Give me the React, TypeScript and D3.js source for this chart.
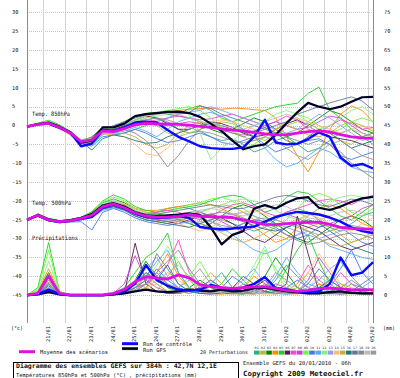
import React from "react";
import * as d3 from "d3";

const HOURS = d3.range(0, 385, 12);
const DAY_LABELS = ["21/01","22/01","23/01","24/01","25/01","26/01","27/01","28/01","29/01","30/01","31/01","01/02","02/02","03/02","04/02","05/02"];
const LEFT_TICKS = [30,25,20,15,10,5,0,-5,-10,-15,-20,-25,-30,-35,-40,-45];
const RIGHT_TICKS = [75,70,65,60,55,50,45,40,35,30,25,20,15,10,5,0];
const PERT_IDS = ["01","02","03","04","05","06","07","08","09","10","11","12","13","14","15","16","17","18","19","20"];
const PERT_COLORS = ["#33aa88","#bbbb33","#008800","#ff8c00","#22cc22","#551a55","#ff44cc","#cc44cc","#66ff33","#4477ee","#55aaff","#88ee88","#9999ff","#ffbb77","#ccaa44","#227777","#667799","#888888","#bbbbbb","#999999"];

// Temp 850 hPa
const T850_MEAN = [-0.3,0.3,0.6,-0.5,-1.9,-4.3,-3.8,-1.4,-1.6,-0.8,0.2,0.6,0.4,0.4,0.3,0.1,-0.2,-0.5,-0.9,-1.2,-1.4,-1.8,-2.2,-2.5,-2.4,-2.0,-1.6,-1.4,-1.7,-2.4,-3.0,-3.3,-3.4];
const T850_CTRL = [-0.3,0.3,0.5,-0.6,-1.8,-5.5,-4.8,-1.2,-1.4,-0.5,0.8,1.0,0.8,-1.2,-3.0,-4.2,-5.5,-6.0,-6.2,-6.2,-5.8,-3.0,1.5,-4.5,-5.0,-4.8,-3.6,-1.8,-3.0,-8.5,-10.7,-10.2,-11.4];
const T850_GFS = [-0.3,0.4,0.8,-0.3,-1.8,-4.5,-4.0,-0.5,-0.5,0.5,2.5,3.0,3.3,3.6,3.7,3.3,2.3,0.5,-1.5,-4.0,-6.3,-5.5,-5.0,-2.5,0.6,3.5,6.0,5.0,4.3,5.0,6.3,7.5,7.6];
const T850_PERT = [
  [-0.3,0.5,1.0,-0.2,-1.8,-4.5,-5.0,-2.5,-1.0,0.0,1.0,1.5,2.0,1.0,-1.0,-2.0,-1.5,-3.0,-4.0,-3.5,-5.0,-7.0,-6.0,-4.0,-3.0,-5.0,-7.0,-6.0,-4.0,-2.0,-1.0,-3.0,-5.0],
  [-0.3,0.2,0.5,-0.6,-2.2,-4.0,-3.5,-1.5,-2.0,-1.0,0.5,1.0,0.0,-2.0,-3.0,-2.0,-1.0,0.0,1.0,0.5,-1.0,-3.0,-4.0,-2.0,0.0,1.0,0.5,-1.0,-2.0,-4.0,-5.0,-3.0,-2.0],
  [-0.3,0.4,0.8,-0.4,-2.0,-4.2,-3.0,-0.5,-0.5,1.0,2.5,3.2,3.5,3.0,2.5,2.0,1.0,-1.0,-2.0,-1.0,0.5,2.0,1.0,-1.0,-3.0,-2.0,0.0,2.0,4.0,3.0,1.0,-1.0,-2.0],
  [-0.3,0.3,0.6,-0.2,-1.8,-4.0,-4.5,-2.0,-1.5,-0.5,1.0,2.0,3.0,3.5,4.0,4.3,4.5,4.6,4.3,4.6,4.5,4.2,4.0,2.0,-3.0,-8.0,-12.3,-7.0,-1.0,3.0,5.2,4.0,1.0],
  [-0.3,0.6,1.4,0.2,-1.5,-3.8,-3.2,-1.0,-2.5,-2.0,-1.0,0.0,1.0,2.0,3.0,4.5,5.3,4.0,2.0,1.0,2.0,3.0,4.0,5.0,5.5,5.9,8.5,10.2,4.1,2.0,-1.0,-3.0,-2.0],
  [-0.3,0.3,0.7,-0.5,-2.5,-4.8,-4.0,-1.2,-1.0,0.0,1.5,2.5,2.0,0.5,-1.0,-1.0,0.0,1.0,0.5,-0.5,-2.0,-3.0,-2.5,-1.0,0.5,1.5,0.0,-2.0,-3.0,-3.5,-4.0,-5.0,-6.0],
  [-0.3,0.2,0.4,-0.7,-2.3,-4.5,-4.3,-2.0,-1.5,-1.0,0.0,1.0,1.5,2.0,2.5,2.0,1.5,1.8,2.5,3.0,2.0,1.0,0.0,1.0,2.5,1.5,-1.0,-2.0,0.0,1.5,0.5,-1.0,-0.5],
  [-0.3,0.4,0.9,-0.1,-1.7,-4.0,-3.2,-0.8,-1.2,-0.5,0.5,1.0,0.5,0.0,0.5,1.0,0.5,-0.5,-1.0,-2.0,-2.5,-1.5,0.0,1.0,0.0,-1.0,-0.5,1.0,2.5,2.0,0.0,-2.0,-3.0],
  [-0.3,0.6,1.3,0.0,-1.6,-3.9,-3.5,-1.0,-0.5,0.5,1.5,2.5,3.5,4.0,4.5,5.0,4.0,2.0,-1.0,-4.0,-6.0,-5.0,-3.0,-1.0,1.0,3.0,2.0,0.0,-2.0,-1.0,1.0,2.0,1.0],
  [-0.3,0.3,0.6,-0.4,-2.1,-4.4,-5.5,-3.0,-2.5,-2.0,-1.0,-2.0,-3.5,-4.5,-4.0,-3.0,-2.0,-3.0,-4.5,-5.0,-4.0,-3.0,-5.0,-7.0,-6.0,-5.0,-4.0,-3.5,-5.0,-8.0,-9.0,-8.0,-7.0],
  [-0.3,0.3,0.5,-0.5,-2.2,-4.6,-4.8,-2.2,-2.0,-1.5,-0.5,-1.5,-3.0,-1.0,1.0,2.0,3.0,3.5,2.5,1.0,-1.0,-3.0,-6.0,-9.0,-11.0,-10.0,-8.0,-6.0,-7.0,-9.0,-11.0,-12.0,-12.5],
  [-0.3,0.5,1.1,-0.2,-1.9,-4.1,-3.6,-1.3,-0.8,0.2,1.2,2.0,2.5,3.0,3.5,3.0,-2.0,-9.0,-6.0,-4.0,-2.0,0.0,1.0,3.0,4.0,3.0,1.0,-1.0,0.0,2.0,4.0,5.0,3.0],
  [-0.3,0.4,0.7,-0.3,-2.0,-4.2,-3.8,-1.6,-1.8,-1.0,0.0,0.5,1.0,2.0,3.0,3.5,4.0,5.0,4.0,3.0,2.0,1.0,0.0,-1.0,-2.0,-1.0,1.0,3.0,2.0,0.0,-2.0,-4.0,-3.0],
  [-0.3,0.3,0.6,-0.6,-2.4,-4.5,-4.0,-2.0,-2.5,-3.0,-5.0,-7.5,-8.0,-6.0,-3.0,-1.0,0.0,1.0,1.5,1.0,0.0,-1.0,-2.0,-1.0,1.0,2.0,1.0,0.0,-1.0,-2.0,-1.0,0.0,-1.0],
  [-0.3,0.2,0.5,-0.8,-2.5,-4.6,-4.2,-2.3,-2.2,-2.0,-3.0,-5.0,-6.0,-5.0,-2.0,0.0,1.0,0.5,-0.5,-1.5,-3.0,-4.0,-3.0,-1.0,0.0,-1.0,-2.5,-3.0,-2.0,0.0,1.0,0.0,-1.5],
  [-0.3,0.3,0.6,-0.4,-2.1,-4.3,-6.5,-3.5,-2.5,-3.0,-4.0,-4.7,-4.5,-3.0,-2.0,-1.0,0.0,0.5,0.0,-1.0,-2.0,-1.5,-0.5,-2.0,-4.0,-5.0,-3.0,-1.0,-2.0,-4.0,-6.0,-5.0,-4.0],
  [-0.3,0.4,0.8,-0.2,-1.8,-4.0,-3.6,-1.1,0.0,1.0,2.0,2.8,3.2,3.4,3.2,3.5,5.2,4.5,3.0,2.0,1.0,0.0,-1.0,0.0,1.0,3.0,4.0,5.0,6.0,6.8,7.6,6.5,4.1],
  [-0.3,0.3,0.6,-0.5,-2.2,-4.4,-4.0,-1.5,-1.5,-1.0,-2.0,-4.0,-7.0,-11.0,-8.0,-4.0,-1.0,0.0,-1.0,-2.0,-3.0,-2.0,-1.0,-2.0,-3.0,-4.0,-5.0,-4.0,-5.0,-7.0,-10.0,-12.0,-14.0],
  [-0.3,0.5,1.0,-0.1,-1.7,-3.9,-3.3,-0.9,-0.3,0.5,1.5,2.5,3.0,3.3,3.0,2.0,1.0,0.5,0.0,-0.5,-1.0,0.0,1.0,2.0,3.0,2.0,0.0,-2.0,-3.0,-2.0,-1.0,-2.0,-3.0],
  [-0.3,0.2,0.4,-0.6,-2.3,-4.3,-4.6,-1.8,-1.5,-0.5,0.5,1.5,2.0,1.5,0.5,-0.5,-1.5,-2.0,-3.0,-4.0,-4.5,-4.0,-3.0,-4.0,-6.0,-8.0,-9.0,-7.0,-5.0,-4.0,-6.0,-8.0,-9.0],
];

// Temp 500 hPa
const T500_MEAN = [-25,-23.8,-25,-25.5,-25.2,-24.6,-23.8,-21.5,-20.8,-21.8,-23.2,-24,-24.3,-24.3,-24.1,-23.6,-24,-24.2,-24.3,-24.4,-25,-25.6,-26.2,-26.3,-26,-25.8,-25.7,-25.6,-26.2,-27,-27.3,-27.4,-27.5];
const T500_CTRL = [-25,-23.9,-25.1,-25.6,-25.3,-24.8,-24.2,-21.8,-21,-22,-23.4,-24.2,-24.5,-24.4,-24,-24.5,-26.9,-27.3,-27.5,-27.3,-27,-26.8,-25.5,-24.3,-23.5,-22.9,-23.2,-23.6,-24.4,-25.5,-27,-28,-28.5];
const T500_GFS = [-25,-23.7,-24.9,-25.4,-25.1,-24.5,-23.5,-21.2,-20.6,-21.5,-23,-23.8,-24,-23.8,-23.6,-23.3,-23.7,-27,-31.5,-29,-28,-22,-21.1,-22,-20.5,-19.3,-19,-21.8,-22.4,-21.5,-20.3,-19.3,-18.9];
const T500_PERT = [
  [-25,-24,-25.2,-25.6,-25,-24.5,-23.5,-21,-20,-21,-22.5,-23.5,-23,-22,-21.5,-22,-23,-24,-25,-26,-27,-28,-27,-25,-23,-22,-23,-25,-27,-28,-26,-24,-23],
  [-25,-23.6,-24.8,-25.3,-25.3,-24.8,-24,-22,-21.5,-22.5,-24,-25,-25.5,-26,-25.5,-24.5,-23,-22,-21,-21.5,-23,-25,-27,-29,-30,-29,-27,-26,-27,-29,-31,-30,-28],
  [-25,-24,-25,-25.4,-25.1,-24.4,-23,-20.5,-19.5,-20.5,-22,-23,-23.5,-24,-25,-26,-27,-26,-24,-22,-21,-22,-24,-26,-28,-30,-31,-29,-27,-25,-24,-25,-27],
  [-25,-23.7,-25,-25.5,-25.3,-24.8,-24,-21.8,-20.5,-21,-22,-22.5,-22.5,-22,-21.5,-21,-20.5,-21,-22,-23.5,-25,-27,-29,-31,-30,-27,-24,-22,-21,-22,-24,-26,-27],
  [-25,-23.4,-24.6,-25.2,-25,-24.4,-22.8,-20,-18.4,-19.5,-21.5,-22.5,-23,-22.5,-22,-21.5,-21,-20,-19,-18.5,-19,-21,-23,-22,-19,-17.5,-18,-20,-22,-24,-25,-23,-21],
  [-25,-24,-25.2,-25.8,-25.5,-24.8,-24.2,-22,-21.5,-22,-23.5,-24.5,-25,-25.5,-26,-25,-24,-23.5,-24.5,-26,-28,-30,-31,-29,-27,-26,-27,-28,-30,-32,-33,-32,-31],
  [-25,-23.8,-25,-25.5,-25,-24.6,-23.6,-21.4,-20.6,-21.6,-23,-23.5,-23,-22.5,-23,-24,-25,-24,-22.5,-21,-20.5,-21.5,-23,-24,-23,-22,-21,-20,-19.5,-20,-21,-19.5,-18.5],
  [-25,-23.9,-25.1,-25.6,-25.3,-24.7,-24,-21.7,-21,-22,-23.5,-24.5,-25,-24.5,-24,-23.5,-23,-24,-25.5,-27,-28,-27,-25.5,-24,-23.5,-24.5,-26,-27,-26,-25,-24,-22,-21],
  [-25,-23.5,-24.7,-25.3,-25,-24.3,-23.2,-20.3,-19,-20,-22,-23,-23.5,-23,-22,-21,-20.5,-19.5,-19,-20,-22,-24,-26,-27,-25,-22,-19,-18,-19,-21,-23,-24,-22],
  [-25,-24.1,-25.3,-25.7,-25.6,-25.5,-27.7,-23,-22,-23,-24.5,-25.5,-26,-26.5,-26,-25.5,-26,-27,-28,-27.5,-26,-25,-25.5,-27,-29,-30,-29,-27,-26,-27,-29,-31,-32],
  [-25,-23.9,-25.2,-25.8,-25.4,-24.9,-24.5,-22.5,-21.8,-22.5,-24,-25,-25.5,-25,-24.5,-24,-24.5,-25.5,-27,-29,-31,-33,-34,-33,-31,-29,-28,-30,-32,-33,-34,-35,-35.5],
  [-25,-23.6,-24.8,-25.3,-25,-24.4,-23.3,-20.6,-19.6,-20.8,-22.5,-23.5,-24,-24.5,-24.5,-24,-23,-22,-21,-20,-19.5,-20,-21,-22.5,-24,-25,-24,-22,-20,-19,-18.5,-19,-20],
  [-25,-23.8,-25,-25.4,-25.2,-24.6,-23.7,-21.4,-20.7,-21.7,-23.2,-24,-24.5,-25,-25.5,-26,-25.5,-25,-24,-23.5,-23,-24,-25,-26,-27,-28,-29,-30,-29,-28,-27.5,-28,-29],
  [-25,-24,-25.2,-25.6,-25.4,-24.8,-24,-21.5,-20.2,-20.8,-22,-23,-24,-25,-26,-27,-28,-27,-25.5,-24,-23,-22.5,-23.5,-25,-26,-25,-23.5,-24.5,-26,-27.5,-28,-26,-24.5],
  [-25,-23.7,-24.9,-25.5,-25.2,-24.6,-23.9,-21.8,-21,-21.8,-23,-23.8,-24.2,-24.5,-25,-25.5,-26,-27,-28.5,-30,-31,-30,-28.5,-27,-26,-26.5,-28,-30,-31.5,-32,-31,-30,-29],
  [-25,-24,-25.3,-25.7,-25.3,-24.7,-24.3,-22.2,-21.5,-22.4,-24,-25,-25.5,-26,-26.5,-27,-26,-25,-24,-24.5,-25.5,-26.5,-27.5,-28,-27,-26,-25,-26,-28,-30,-32,-33,-34],
  [-25,-23.8,-24.9,-25.4,-25.1,-24.5,-23.5,-21,-20.4,-21.4,-22.8,-23.5,-23.5,-23,-22.5,-22,-21.5,-21,-21.5,-22,-22,-21,-20,-19,-18.5,-19,-20,-21,-21.5,-20.5,-19.5,-20,-21],
  [-25,-23.9,-25.1,-25.6,-25.3,-24.7,-23.9,-21.6,-20.9,-21.9,-23.4,-24.3,-25,-25.5,-25,-24.5,-24,-23.5,-23,-23.5,-24.5,-25.5,-26.5,-27.5,-29,-30.5,-31.5,-31,-30,-29,-28.5,-29,-30],
  [-25,-23.7,-24.9,-25.4,-25.1,-24.5,-23.6,-21.2,-20.3,-21.3,-22.9,-23.8,-24,-23.8,-23.5,-23,-22.5,-22,-22.5,-23.5,-24,-23,-22,-21,-21.5,-23,-24.5,-25,-24,-23,-22.5,-23,-24],
  [-25,-23.8,-25,-25.5,-25.2,-24.6,-24.1,-21.9,-21.2,-22.1,-23.5,-24.2,-24.6,-24.8,-24.6,-24.2,-24.5,-25.5,-26.5,-27,-26,-25,-24.5,-25,-26,-27,-28,-29,-28,-27,-26.5,-27,-28],
];

// Precipitation (mm)
const PRECIP_MEAN = [0,0.5,5,0.5,0.1,0.1,0.1,0.1,0.5,1.5,3.5,4.9,4.5,4.3,5.4,4.6,2.8,2.3,2.0,1.8,2.0,2.2,2.3,1.8,1.3,1.0,1.3,1.8,1.9,1.7,1.5,1.4,1.5];
const PRECIP_CTRL = [0,0.3,1.5,0.3,0,0,0,0,0.3,1,3,8,4,2.5,1.5,1.2,1.5,2.7,2,1.5,2,3,4.8,1.9,1.5,1,0.8,1,3,10,5.3,6,8.8];
const PRECIP_GFS = [0,0.2,0.8,0.2,0,0,0,0,0.2,0.5,1,1.5,1,0.8,1,1.5,1.2,1,1.5,1,1.2,1.8,2,1.5,1,0.8,0.5,0.5,0.8,1,0.6,0.5,0.5];
const PRECIP_PERT = [
  [0,0.5,4,0.5,0,0,0,0,0.2,0.5,2,4,6,3,1,0.5,1,3,6,2,1,0.5,1,4,8,5,2,1,0.5,1,3,2,1],
  [0,0.3,3,0.2,0,0,0,0.1,0.3,1,3,2,1,5,9,4,1,0.5,0.3,1,2,1,0.5,0.3,1,2,6,3,1,0.5,0.3,1,0.5],
  [0,1,6,0.5,0,0,0,0,0.2,1,4,9,5,2,1,2,4,2,1,0.5,0.3,2,5,10,6,2,1,0.5,1,2,1,0.5,0.3],
  [0,1,7,0.8,0.1,0,0,0,0.2,0.5,1,2,6,11,5,2,1,0.5,0.3,0.5,2,5,3,1,0.5,0.3,1,3,2,1,0.5,0.3,0.2],
  [0,2,14,1,0,0,0,0,0.5,2,6,10,12,16.5,6,2,1,1,3,7,4,1,0.5,2,7,12,16,9,3,1,0.5,0.3,0.3],
  [0,0.3,1,0.2,0,0,0,0,0.1,0.5,13.8,3,1,0.5,0.5,1,2,1,0.5,0.5,1,2,4,1,3,21,11,1,0.5,0.3,0.5,1,0.5],
  [0,0.5,5.5,0.5,0,0,0,0,0.3,1,2,3,5,8,14.6,6,2,1,0.5,1,3,2,1,0.5,1,3,8,4,2,6,3,1,0.5],
  [0,0.3,3,0.3,0,0,0,0,0.5,3,10.5,4,2,1,0.5,1,2,4,2,1,0.5,0.3,1,3,2,1,4,10,6,2,1,0.5,0.3],
  [0,1.5,12,1,0,0,0,0,0.3,1,3,6,3,1,2,5,9,4,1,0.5,2,6,12,7,3,1,0.5,1,4,9,5,2,1],
  [0,0.5,2,0.3,0,0,0,0,0.2,0.5,1,3,7,4,2,1,0.5,1,2,5,3,1,0.5,1,2,4,2,1,3,7,12,6,3],
  [0,0.5,3,0.3,0,0,0,0,0.3,1,2,5,9,12,6,2,1,0.5,1,2,1,0.5,1,5,10,6,3,2,1,0.5,1,2,4],
  [0,1,9,0.8,0,0,0,0,0.2,0.5,2,4,8,13,9,4,2,1,0.5,1,3,8,13,6,2,1,0.5,2,5,3,1,0.5,0.3],
  [0,0.3,2,0.2,0,0,0,0,0.3,1.5,4,7,10,5,2,1,0.5,0.3,1,2,4,7,3,1,0.5,1,2,4,7,9,5,2,1],
  [0,0.8,5,0.5,0,0,0,0,0.2,0.5,1,2,3,6,4,2,1,0.5,1,2,1,0.5,0.3,0.5,1,3,6,11,7,3,1,0.5,0.3],
  [0,0.5,4,0.4,0,0,0,0,0.2,0.8,2,5,3,1,0.5,1,3,6,3,1,0.5,0.3,0.5,1,2,1,0.5,0.3,1,3,2,1,0.5],
  [0,0.3,2.5,0.2,0,0,0,0,0.1,0.5,3,6,4,8,3,1,0.5,0.3,0.5,2,5,3,1,0.5,0.3,0.5,1,2,4,2,1,0.5,0.3],
  [0,0.4,3,0.3,0,0,0,0,0.2,0.6,2,4,11,7,3,1,2,4,2,1,0.5,1,2,1,0.5,1,3,7,4,2,1,3,5],
  [0,0.5,3.5,0.4,0,0,0,0,0.2,0.6,1.5,3,6,9,12,7,3,1,0.5,0.3,0.5,1,3,2,1,0.5,0.3,0.5,1,2,4,2,1],
  [0,0.3,2,0.2,0,0,0,0,0.1,0.4,1,2,4,6,8,5,2,1,0.5,1,2,1,0.5,0.3,0.5,1,2,5,3,1,0.5,0.3,0.2],
  [0,0.4,3,0.3,0,0,0,0,0.2,0.5,1,3,5,3,2,4,7,3,1,0.5,0.3,0.5,2,6,4,2,1,0.5,0.3,0.5,1,0.5,0.3],
];

const MONO = "'DejaVu Sans Mono', 'Liberation Mono', monospace";
const MEAN_COLOR = "#e010e0";
const CTRL_COLOR = "#0a0aff";
const GFS_COLOR = "#00002a";

function Txt(props: { x: number; y: number; len?: number; size?: number; bold?: boolean; children: React.ReactNode; fill?: string }) {
  const { x, y, len, size = 6, bold = false, children, fill = "#111" } = props;
  return (
    <text x={x} y={y} fontFamily={MONO} fontSize={size} fontWeight={bold ? "bold" : "normal"} fill={fill}
      {...(len ? { textLength: len, lengthAdjust: "spacingAndGlyphs" } : {})}>{children}</text>
  );
}

export default function App() {
  const x = d3.scaleLinear().domain([0, 384]).range([27, 373]);
  const yT = d3.scaleLinear().domain([-45, 30]).range([295.2, 12.4]);
  const yP = d3.scaleLinear().domain([0, 75]).range([295.2, 12.4]);
  const lT = d3.line<number>().x((_, i) => x(HOURS[i])).y((d) => yT(d));
  const lP = d3.line<number>().x((_, i) => x(HOURS[i])).y((d) => yP(d));
  const dayHours = DAY_LABELS.map((_, k) => 18 + 24 * k);
  const boxX = d3.scaleLinear().domain([0, 20]).range([254, 376.7]);

  return (
    <svg width={400} height={378} style={{ position: "absolute", left: 0, top: 0 }}>
      <rect x={0} y={0} width={400} height={378} fill="#fff" />
      {/* grid */}
      <g shapeRendering="crispEdges">
        {LEFT_TICKS.map((v) => (
          <line key={"h" + v} x1={27} x2={373} y1={Math.round(yT(v)) + 0.5} y2={Math.round(yT(v)) + 0.5} stroke="#c4c4c4" strokeDasharray="1,1" />
        ))}
        {dayHours.map((h) => (
          <line key={"v" + h} x1={Math.round(x(h)) + 0.5} x2={Math.round(x(h)) + 0.5} y1={0} y2={323} stroke="#d2d2d2" />
        ))}
        <line x1={27.5} x2={27.5} y1={0} y2={323} stroke="#8a8a8a" />
        <line x1={373.5} x2={373.5} y1={0} y2={323} stroke="#8a8a8a" />
      </g>
      {/* axis labels */}
      {LEFT_TICKS.map((v) => (
        <Txt key={"l" + v} x={12} y={yT(v) + 1.8} size={5.3}>{String(v)}</Txt>
      ))}
      {RIGHT_TICKS.map((v) => (
        <Txt key={"r" + v} x={384} y={yP(v) + 1.8} size={5.3}>{String(v)}</Txt>
      ))}
      {DAY_LABELS.map((d, k) => (
        <text key={d} transform={`translate(${x(dayHours[k]) + 6.5},326) rotate(-90)`} textAnchor="end"
          fontFamily={MONO} fontSize={5.3} fill="#111" textLength={16} lengthAdjust="spacingAndGlyphs">{d}</text>
      ))}
      <Txt x={11} y={329.5} len={12} size={5.5}>(°c)</Txt>
      <Txt x={383} y={329.5} len={12} size={5.5}>(mm)</Txt>
      {/* section labels */}
      <Txt x={32} y={116} len={38} size={6}>Temp. 850hPa</Txt>
      <Txt x={32} y={204.5} len={39} size={6}>Temp. 500hPa</Txt>
      <Txt x={32} y={239.5} len={46} size={6}>Précipitations</Txt>
      {/* perturbations */}
      <g fill="none" strokeWidth={0.9} strokeLinejoin="round">
        {T850_PERT.map((s, i) => <path key={"a" + i} d={lT(s) || ""} stroke={PERT_COLORS[i]} />)}
        {T500_PERT.map((s, i) => <path key={"b" + i} d={lT(s) || ""} stroke={PERT_COLORS[i]} />)}
        {PRECIP_PERT.map((s, i) => <path key={"c" + i} d={lP(s) || ""} stroke={PERT_COLORS[i]} />)}
      </g>
      {/* GFS run */}
      <g fill="none" strokeWidth={2.2} strokeLinejoin="round" stroke={GFS_COLOR}>
        <path d={lT(T850_GFS) || ""} />
        <path d={lT(T500_GFS) || ""} />
        <path d={lP(PRECIP_GFS) || ""} />
      </g>
      {/* control run */}
      <g fill="none" strokeWidth={2.4} strokeLinejoin="round" stroke={CTRL_COLOR}>
        <path d={lT(T850_CTRL) || ""} />
        <path d={lT(T500_CTRL) || ""} />
        <path d={lP(PRECIP_CTRL) || ""} />
      </g>
      {/* mean */}
      <g fill="none" strokeWidth={2.8} strokeLinejoin="round" stroke={MEAN_COLOR}>
        <path d={lT(T850_MEAN) || ""} />
        <path d={lT(T500_MEAN) || ""} />
        <path d={lP(PRECIP_MEAN) || ""} />
      </g>
      {/* legend */}
      <line x1={19} x2={35} y1={351.7} y2={351.7} stroke={MEAN_COLOR} strokeWidth={3} />
      <Txt x={40} y={354} len={68} size={5.4}>Moyenne des scénarios</Txt>
      <line x1={122} x2={138} y1={343.7} y2={343.7} stroke={CTRL_COLOR} strokeWidth={3} />
      <Txt x={143} y={346} len={49} size={5.4}>Run de contrôle</Txt>
      <line x1={122} x2={138} y1={348.6} y2={348.6} stroke="#1a1a80" strokeWidth={3} />
      <line x1={122} x2={138} y1={348.6} y2={348.6} stroke="#000" strokeWidth={1.2} />
      <Txt x={143} y={351.5} len={23} size={5.4}>Run GFS</Txt>
      <Txt x={200} y={354} len={48} size={5}>20 Perturbations</Txt>
      {PERT_IDS.map((id, i) => (
        <g key={"k" + id}>
          <text x={boxX(i) + 0.6} y={349.4} fontFamily={MONO} fontSize={3.2} fill="#333" textLength={4.4} lengthAdjust="spacingAndGlyphs">{id}</text>
          <rect x={boxX(i)} y={350.6} width={5.6} height={4} fill={PERT_COLORS[i]} />
        </g>
      ))}
      {/* title box */}
      <rect x={13.5} y={362.5} width={225} height={30} fill="none" stroke="#000" strokeWidth={1} />
      <Txt x={16} y={368.2} len={201} size={6.3} bold>Diagramme des ensembles GEFS sur 384h : 42,7N 12,1E</Txt>
      <Txt x={16} y={376.5} len={181} size={5.4}>Températures 850hPa et 500hPa (°C) , précipitations (mm)</Txt>
      <Txt x={243} y={365.2} len={108} size={5.5}>Ensemble GEFS du 20/01/2010 - 06h</Txt>
      <Txt x={243} y={376} len={120} size={7} bold>Copyright 2009 Meteociel.fr</Txt>
    </svg>
  );
}
